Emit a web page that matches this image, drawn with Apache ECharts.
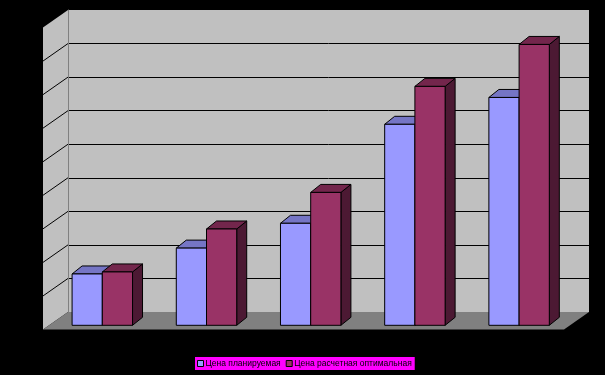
<!DOCTYPE html>
<html>
<head>
<meta charset="utf-8">
<script src="https://cdn.jsdelivr.net/npm/echarts@6/dist/echarts.min.js"></script>
<style>
html,body{margin:0;padding:0;background:#000;}
#chart{width:605px;height:375px;}
</style>
</head>
<body>
<div id="chart"></div>
<script>
const categories = ['1', '2', '3', '4', '5'];
const seriesNames = ['Цена планируемая', 'Цена расчетная оптимальная'];
const planned = [1.53, 2.30, 3.04, 5.99, 6.79];
const optimal = [1.59, 2.87, 3.96, 7.12, 8.37];
const yMin = 0, yMax = 9, yInterval = 1;

const WALL_DX = 25, WALL_DY = 17.5;   // depth of floor / side wall
const BAR_OX = 17.8, BAR_OY = 13.3;   // front face offset from back wall
const BAR_DX = 10, BAR_DY = 8;        // bar depth
const faces = [
  {front: '#9999ff', top: '#7575c5', side: '#4c4c80'},
  {front: '#993366', top: '#73264c', side: '#4c1933'}
];

function renderWalls(params, api) {
  const cs = params.coordSys;
  const left = cs.x, right = cs.x + cs.width, top = cs.y, bottom = cs.y + cs.height;
  const children = [];
  children.push({type: 'polygon', shape: {points: [[left, top], [left, bottom], [left - WALL_DX, bottom + WALL_DY], [left - WALL_DX, top + WALL_DY]]}, style: {fill: '#c0c0c0'}});
  for (let v = yMin + yInterval; v < yMax; v += yInterval) {
    const p = api.coord([0, v]);
    children.push({type: 'line', shape: {x1: left, y1: p[1], x2: left - WALL_DX, y2: p[1] + WALL_DY}, style: {stroke: '#000', lineWidth: 1}});
  }
  children.push({type: 'polygon', shape: {points: [[left, bottom], [right, bottom], [right - WALL_DX, bottom + WALL_DY], [left - WALL_DX, bottom + WALL_DY]]}, style: {fill: '#808080'}});
  return {type: 'group', children};
}

function makeBarRenderer(k) {
  return function (params, api) {
    const cat = api.value(0), val = api.value(1);
    const t = api.coord([cat, val]);
    const b = api.coord([cat, 0]);
    const bw = api.size([1, 0])[0] * 0.29;
    const x0 = t[0] - BAR_OX + (k === 0 ? -bw : 0);
    const x1 = x0 + bw;
    const yT = t[1] + BAR_OY, yB = b[1] + BAR_OY;
    const f = faces[k];
    const st = (c) => ({fill: c, stroke: '#000', lineWidth: 1});
    return {type: 'group', children: [
      {type: 'polygon', shape: {points: [[x1, yT], [x1 + BAR_DX, yT - BAR_DY], [x1 + BAR_DX, yB - BAR_DY], [x1, yB]]}, style: st(f.side)},
      {type: 'polygon', shape: {points: [[x0, yT], [x1, yT], [x1 + BAR_DX, yT - BAR_DY], [x0 + BAR_DX, yT - BAR_DY]]}, style: st(f.top)},
      {type: 'rect', shape: {x: x0, y: yT, width: bw, height: yB - yT}, style: st(f.front)}
    ]};
  };
}

const chart = echarts.init(document.getElementById('chart'));
chart.setOption({
  backgroundColor: '#000',
  animation: false,
  grid: {left: 68, right: 16, top: 10, bottom: 63, show: true, backgroundColor: '#c0c0c0', borderWidth: 0},
  xAxis: {type: 'category', data: categories, axisLine: {show: false}, axisTick: {show: false}, axisLabel: {show: false}},
  yAxis: {type: 'value', min: yMin, max: yMax, interval: yInterval,
    axisLine: {show: true, lineStyle: {color: '#808080', width: 1}},
    axisTick: {show: false}, axisLabel: {show: false},
    splitLine: {show: true, showMinLine: false, showMaxLine: false, lineStyle: {color: '#000', width: 1}}},
  legend: {
    data: seriesNames, left: 195, top: 357, orient: 'horizontal',
    backgroundColor: '#ff00ff', padding: [2, 3, 2, 2], itemGap: 5, itemWidth: 6, itemHeight: 6,
    icon: 'rect',
    itemStyle: {borderColor: '#000', borderWidth: 1},
    textStyle: {fontSize: 8.5, color: '#000', fontFamily: 'Liberation Sans, Arial', padding: [0, 0, 0, -3]}
  },
  series: [
    {type: 'custom', name: 'walls', renderItem: renderWalls, data: [[0, 0]], silent: true, z: 1},
    {type: 'custom', name: seriesNames[0], renderItem: makeBarRenderer(0),
      itemStyle: {color: faces[0].front, borderColor: '#000', borderWidth: 1},
      data: planned.map((v, i) => [i, v]), z: 2},
    {type: 'custom', name: seriesNames[1], renderItem: makeBarRenderer(1),
      itemStyle: {color: faces[1].front, borderColor: '#000', borderWidth: 1},
      data: optimal.map((v, i) => [i, v]), z: 3}
  ]
});
</script>
</body>
</html>
